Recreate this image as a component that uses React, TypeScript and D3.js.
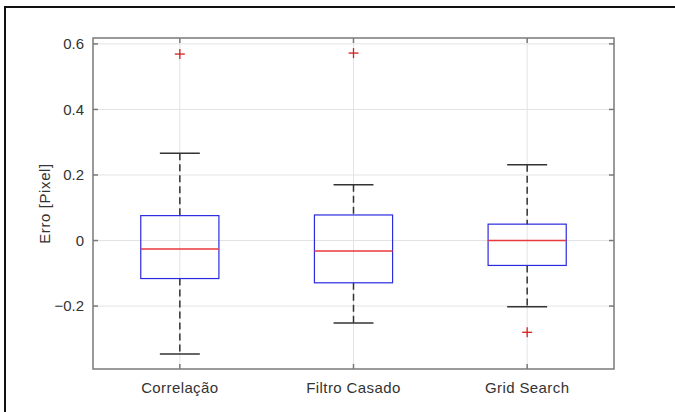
import * as d3 from 'd3';

const categories = ['Correlação', 'Filtro Casado', 'Grid Search'];
const upperWhisker = [0.266, 0.170, 0.231];
const q3 = [0.076, 0.078, 0.050];
const medians = [-0.026, -0.032, 0.0];
const q1 = [-0.116, -0.129, -0.076];
const lowerWhisker = [-0.346, -0.252, -0.202];
const outliers = [[0.569], [0.572], [-0.280]];
const yTicks = [-0.2, 0, 0.2, 0.4, 0.6];

const width = 675;
const height = 412;
const margin = { top: 38, right: 61, bottom: 43, left: 93 };

export default function App() {
  const x = d3.scaleLinear().domain([0.5, 3.5]).range([margin.left, width - margin.right]);
  const y = d3.scaleLinear().domain([-0.392, 0.618]).range([height - margin.bottom, margin.top]);

  const boxHalf = 0.225;
  const capHalf = 0.115;
  const axisColor = '#7a7a7a';
  const textColor = '#333333';
  const font = 'Arial, "Liberation Sans", Helvetica, sans-serif';
  const x0 = margin.left;
  const x1 = width - margin.right;
  const y0 = margin.top;
  const y1 = height - margin.bottom;

  return (
    <div style={{ position: 'absolute', left: 0, top: 0 }}>
      <svg width={width} height={height} style={{ display: 'block', background: '#fff' }} fontFamily={font}>
        <rect x={5} y={7} width={700} height={450} fill="#fff" stroke="#111" strokeWidth={2} />

        {/* grid */}
        {yTicks.map((t) => (
          <line key={'gy' + t} x1={x0} x2={x1} y1={y(t)} y2={y(t)} stroke="#e3e3e3" strokeWidth={1} />
        ))}
        {categories.map((_, i) => (
          <line key={'gx' + i} x1={x(i + 1)} x2={x(i + 1)} y1={y0} y2={y1} stroke="#e3e3e3" strokeWidth={1} />
        ))}

        {/* boxes */}
        {categories.map((c, i) => {
          const cx = x(i + 1);
          const bl = x(i + 1 - boxHalf);
          const br = x(i + 1 + boxHalf);
          const cl = x(i + 1 - capHalf);
          const cr = x(i + 1 + capHalf);
          return (
            <g key={c}>
              <line x1={cx} x2={cx} y1={y(upperWhisker[i])} y2={y(q3[i])} stroke="#333" strokeWidth={1.5} strokeDasharray="7,4" />
              <line x1={cx} x2={cx} y1={y(q1[i])} y2={y(lowerWhisker[i])} stroke="#333" strokeWidth={1.5} strokeDasharray="7,4" />
              <line x1={cl} x2={cr} y1={y(upperWhisker[i])} y2={y(upperWhisker[i])} stroke="#333" strokeWidth={1.5} />
              <line x1={cl} x2={cr} y1={y(lowerWhisker[i])} y2={y(lowerWhisker[i])} stroke="#333" strokeWidth={1.5} />
              <rect x={bl} y={y(q3[i])} width={br - bl} height={y(q1[i]) - y(q3[i])} fill="none" stroke="#2a2ae0" strokeWidth={1.2} />
              <line x1={bl} x2={br} y1={y(medians[i])} y2={y(medians[i])} stroke="#e8383d" strokeWidth={1.4} />
              {outliers[i].map((o, j) => (
                <g key={j} stroke="#d42020" strokeWidth={1.3}>
                  <line x1={cx - 5} x2={cx + 5} y1={y(o)} y2={y(o)} />
                  <line x1={cx} x2={cx} y1={y(o) - 5} y2={y(o) + 5} />
                </g>
              ))}
            </g>
          );
        })}

        {/* axes box */}
        <rect x={x0} y={y0} width={x1 - x0} height={y1 - y0} fill="none" stroke={axisColor} strokeWidth={1.5} />
        {yTicks.map((t) => (
          <g key={'ty' + t} stroke={axisColor} strokeWidth={1.5}>
            <line x1={x0} x2={x0 + 5} y1={y(t)} y2={y(t)} />
            <line x1={x1 - 5} x2={x1} y1={y(t)} y2={y(t)} />
          </g>
        ))}
        {categories.map((_, i) => (
          <g key={'tx' + i} stroke={axisColor} strokeWidth={1.5}>
            <line x1={x(i + 1)} x2={x(i + 1)} y1={y1} y2={y1 - 5} />
            <line x1={x(i + 1)} x2={x(i + 1)} y1={y0} y2={y0 + 5} />
          </g>
        ))}

        {/* tick labels */}
        {yTicks.map((t) => (
          <text key={'ly' + t} x={x0 - 9} y={y(t)} dy="0.35em" textAnchor="end" fontSize={15} fill={textColor}>
            {d3.format('')(t)}
          </text>
        ))}
        {categories.map((c, i) => (
          <text key={'lx' + i} x={x(i + 1)} y={y1 + 24} textAnchor="middle" fontSize={15} fill={textColor} letterSpacing={0.4}>
            {c}
          </text>
        ))}
        <text transform={`translate(50,${(y0 + y1) / 2}) rotate(-90)`} textAnchor="middle" fontSize={15} fill={textColor} letterSpacing={0.6}>
          Erro [Pixel]
        </text>
      </svg>
    </div>
  );
}
